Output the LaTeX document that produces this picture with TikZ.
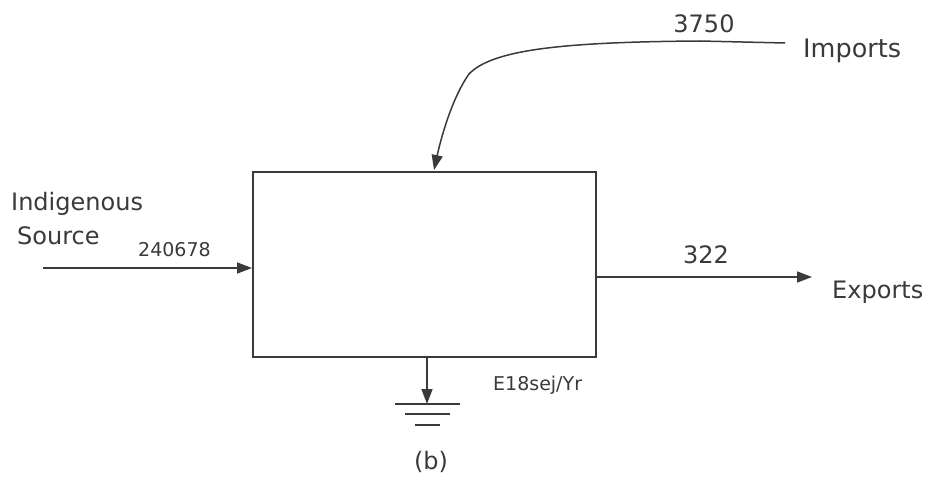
\documentclass[tikz,border=0pt]{standalone}
\usepackage{fontspec}
\setmainfont{DejaVu Sans}
\usetikzlibrary{arrows.meta}
\definecolor{ink}{HTML}{3A3A3A}
\tikzset{
  flow/.style={line width=1.5pt, draw=ink, -{Triangle[length=15pt,width=11pt]}},
  lbl/.style={text=ink, inner sep=0pt, font=\fontsize{24}{28}\selectfont},
  small/.style={text=ink, inner sep=0pt, font=\fontsize{19}{22}\selectfont},
  gnd/.style={line width=1.6pt, draw=ink}
}
\begin{document}
\begin{tikzpicture}[x=1pt,y=-1pt]
\useasboundingbox[fill=white] (0,0) rectangle (929,484);
% main box
\node[draw=ink, line width=2pt, minimum width=343pt, minimum height=185pt, inner sep=0pt, anchor=north west] (box) at (252,171) {};
% indigenous source
\coordinate (src) at (43,268);
\node[lbl, anchor=base west] (ind) at (11,210) {Indigenous};
\node[lbl, anchor=base west] (sou) at (17,244) {Source};
\node[small, anchor=base west] (v1) at (138,256) {240678};
\draw[flow] (src) -- (box.west |- src);
% imports
\coordinate (impS) at (785,43);
\coordinate (impM) at (700,41);
\node[lbl, anchor=base west, font=\fontsize{25.5}{28}\selectfont] (imp) at (803,58) {Imports};
\node[lbl, anchor=base] (v2) at (704,33) {3750};
\draw[flow] (impS) -- (impM) .. controls (560,42) and (492,50) .. (469,74)
  .. controls (452,98) and (441,138) .. (434,170);
% exports
\coordinate (expE) at (812,277);
\node[lbl, anchor=base west] (exp) at (832,298) {Exports};
\node[lbl, anchor=base] (v3) at (706,263) {322};
\draw[flow] (box.east |- expE) -- (expE);
% ground / sink
\coordinate (gtop) at (427,356);
\coordinate (g1) at (427,404);
\draw[flow] (gtop) -- (g1);
\draw[gnd] (395,404) -- (460,404);
\draw[gnd] (405,414) -- (450,414);
\draw[gnd] (415,425) -- (440,425);
\node[small, anchor=base west] (unit) at (493,390) {E18sej/Yr};
% caption
\node[lbl, anchor=center] (cap) at (431,462) {(b)};
\end{tikzpicture}
\end{document}
